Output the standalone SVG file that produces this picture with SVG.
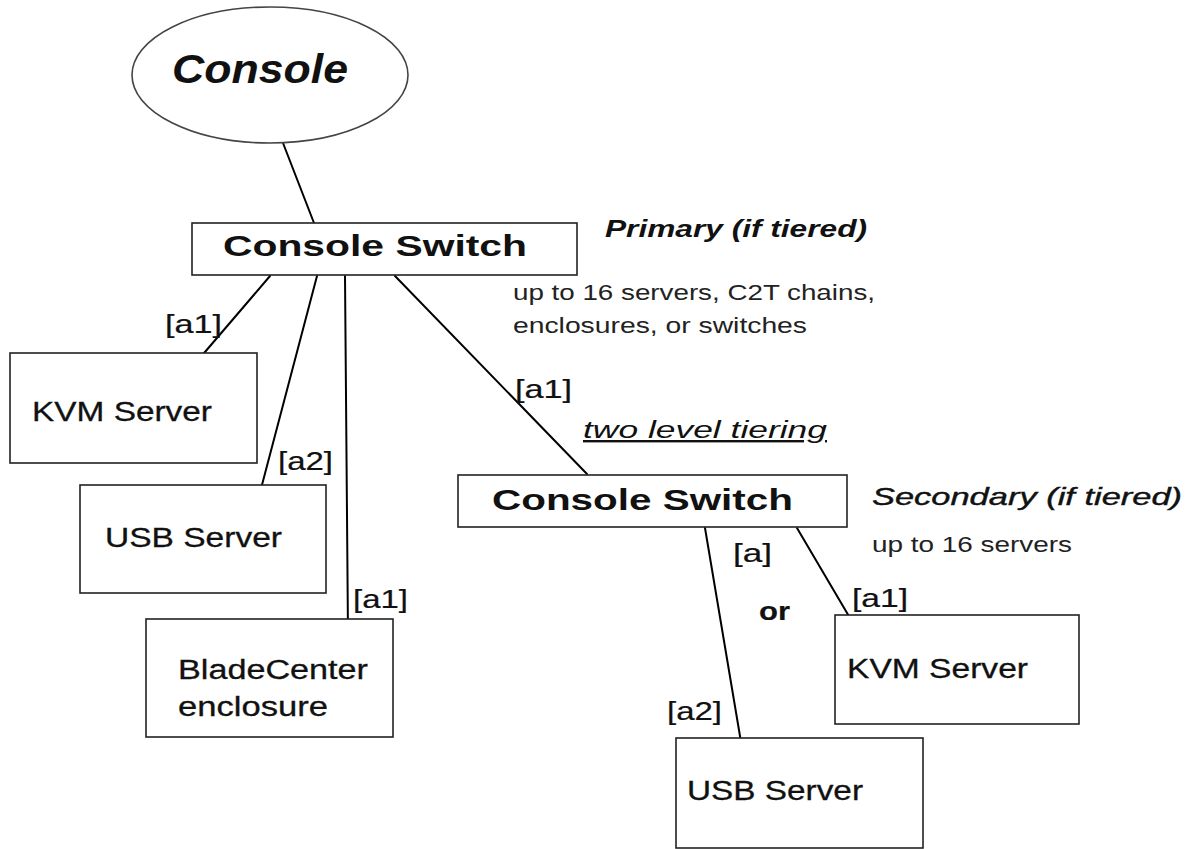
<svg xmlns="http://www.w3.org/2000/svg" width="1192" height="849" viewBox="0 0 1192 849">
<style>
  .box { fill: #fff; stroke: #222; stroke-width: 1.6; }
  .ell { fill: #fff; stroke: #444; stroke-width: 1.6; }
  .conn line { stroke: #000; stroke-width: 2; stroke-linecap: round; }
  text { font-family: "Liberation Sans", Arial, sans-serif; fill: #111; }
  .sw { font-size: 29px; font-weight: bold; }
  .srv { font-size: 27px; stroke: #111; stroke-width: 0.3; }
  .lbl { font-size: 25px; stroke: #111; stroke-width: 0.2; }
  .note { font-size: 22px; fill: #222; }
  .tier { font-size: 24px; font-style: italic; }
</style>
<rect width="1192" height="849" fill="#fff"/>

<g id="connectors" class="conn">
  <line x1="283" y1="143" x2="314" y2="223"/>
  <line x1="270" y1="276" x2="193" y2="366"/>
  <line x1="317" y1="276" x2="258" y2="500"/>
  <line x1="345" y1="276" x2="348" y2="635"/>
  <line x1="395" y1="276" x2="587" y2="474"/>
  <line x1="705" y1="528" x2="742" y2="748"/>
  <line x1="797" y1="528" x2="860" y2="635"/>
</g>

<g id="console">
  <ellipse class="ell" cx="270" cy="75" rx="138" ry="68"/>
  <text x="172" y="83" font-size="40" font-weight="bold" font-style="italic" textLength="176" lengthAdjust="spacingAndGlyphs">Console</text>
</g>

<g id="switch-primary">
  <rect class="box" x="192" y="223" width="385" height="52"/>
  <text class="sw" x="223" y="256" textLength="304" lengthAdjust="spacingAndGlyphs">Console Switch</text>
</g>

<g id="primary-notes">
  <text class="tier" x="605" y="237" font-weight="bold" textLength="262" lengthAdjust="spacingAndGlyphs">Primary (if tiered)</text>
  <text class="note" x="513" y="300" textLength="362" lengthAdjust="spacingAndGlyphs">up to 16 servers, C2T chains,</text>
  <text class="note" x="513" y="333" textLength="294" lengthAdjust="spacingAndGlyphs">enclosures, or switches</text>
</g>

<g id="kvm-left">
  <rect class="box" x="10" y="353" width="247" height="110"/>
  <text class="srv" x="32" y="421" textLength="180" lengthAdjust="spacingAndGlyphs">KVM Server</text>
</g>
<text class="lbl" x="165" y="333" textLength="57" lengthAdjust="spacingAndGlyphs">[a1]</text>

<g id="usb-left">
  <rect class="box" x="80" y="485" width="246" height="108"/>
  <text class="srv" x="105" y="547" textLength="177" lengthAdjust="spacingAndGlyphs">USB Server</text>
</g>
<text class="lbl" x="278" y="470" textLength="55" lengthAdjust="spacingAndGlyphs">[a2]</text>

<g id="bladecenter">
  <rect class="box" x="146" y="619" width="247" height="118"/>
  <text class="srv" x="178" y="679" textLength="190" lengthAdjust="spacingAndGlyphs">BladeCenter</text>
  <text class="srv" x="178" y="716" textLength="150" lengthAdjust="spacingAndGlyphs">enclosure</text>
</g>
<text class="lbl" x="353" y="608" textLength="55" lengthAdjust="spacingAndGlyphs">[a1]</text>

<text class="lbl" x="515" y="398" textLength="57" lengthAdjust="spacingAndGlyphs">[a1]</text>
<text class="tier" x="583" y="438" text-decoration="underline" textLength="244" lengthAdjust="spacingAndGlyphs">two level tiering</text>

<g id="switch-secondary">
  <rect class="box" x="458" y="475" width="389" height="52"/>
  <text class="sw" x="492" y="510" textLength="301" lengthAdjust="spacingAndGlyphs">Console Switch</text>
</g>

<g id="secondary-notes">
  <text class="tier" x="872" y="505" stroke="#111" stroke-width="0.4" textLength="310" lengthAdjust="spacingAndGlyphs">Secondary (if tiered)</text>
  <text class="note" x="872" y="552" textLength="200" lengthAdjust="spacingAndGlyphs">up to 16 servers</text>
</g>

<text class="lbl" x="733" y="562" textLength="39" lengthAdjust="spacingAndGlyphs">[a]</text>
<text class="lbl" x="759" y="620" font-weight="bold" textLength="31" lengthAdjust="spacingAndGlyphs">or</text>
<text class="lbl" x="852" y="607" textLength="56" lengthAdjust="spacingAndGlyphs">[a1]</text>
<text class="lbl" x="667" y="720" textLength="55" lengthAdjust="spacingAndGlyphs">[a2]</text>

<g id="kvm-right">
  <rect class="box" x="835" y="615" width="244" height="109"/>
  <text class="srv" x="847" y="678" textLength="181" lengthAdjust="spacingAndGlyphs">KVM Server</text>
</g>

<g id="usb-right">
  <rect class="box" x="676" y="738" width="247" height="110"/>
  <text class="srv" x="687" y="800" textLength="176" lengthAdjust="spacingAndGlyphs">USB Server</text>
</g>
</svg>
